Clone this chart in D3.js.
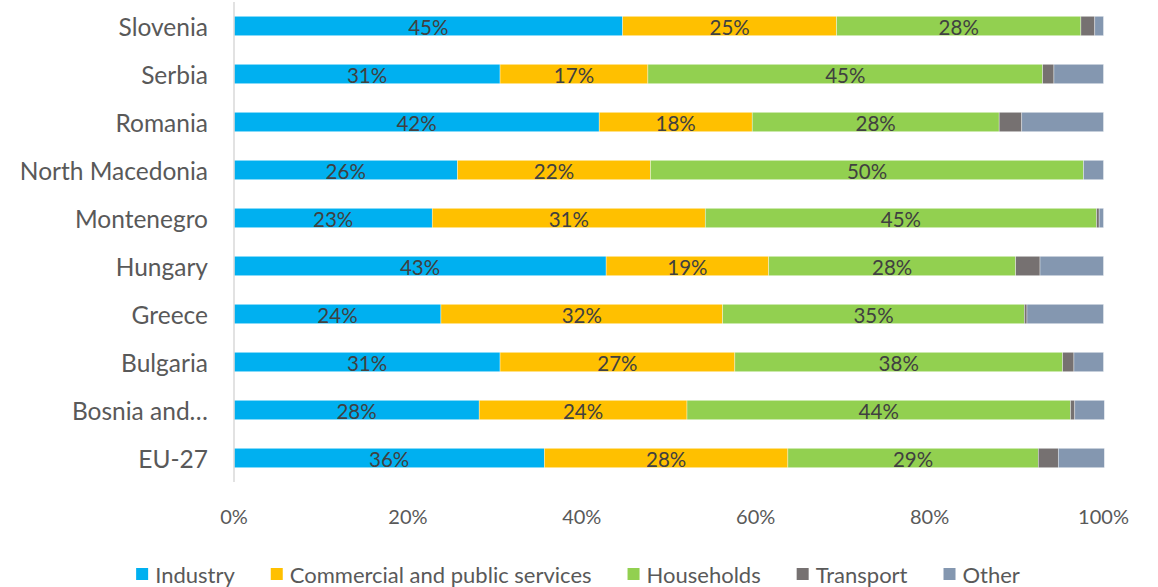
<!DOCTYPE html>
<html>
<head>
<meta charset="utf-8">
<script src="https://cdn.jsdelivr.net/npm/d3@7/dist/d3.min.js"></script>
<style>
  body { margin: 0; background: #fff; }
  text { font-family: Lato, "Open Sans", sans-serif; }
</style>
</head>
<body>
<div id="chart"></div>
<script>
// categories top to bottom
var countries = ["Slovenia", "Serbia", "Romania", "North Macedonia", "Montenegro",
                 "Hungary", "Greece", "Bulgaria", "Bosnia and\u2026", "EU-27"];
var sectors = ["Industry", "Commercial and public services", "Households", "Transport", "Other"];
var colors = ["#00B0F0", "#FFC000", "#92D050", "#767171", "#8497B0"];

// shares in %, one array per sector, same order as countries
var industry   = [44.7, 30.6, 42.0, 25.7, 22.8, 42.8, 23.8, 30.6, 28.2, 35.7];
var commercial = [24.6, 17.0, 17.6, 22.2, 31.4, 18.7, 32.4, 27.0, 23.9, 28.0];
var households = [28.1, 45.4, 28.4, 49.8, 45.0, 28.4, 34.7, 37.7, 44.1, 28.8];
var transport  = [1.6, 1.3, 2.6, 0.0, 0.3, 2.8, 0.3, 1.3, 0.5, 2.3];
var other      = [1.0, 5.7, 9.4, 2.3, 0.5, 7.3, 8.8, 3.4, 3.4, 5.3];
var xTicks = [0, 20, 40, 60, 80, 100];
var labelled = ["Industry", "Commercial and public services", "Households"];

var svgWidth = 1158, svgHeight = 587;
var series = [industry, commercial, households, transport, other];

var table = countries.map(function(c, i) {
    var row = { country: c };
    sectors.forEach(function(s, j) { row[s] = series[j][i]; });
    return row;
});
var stacked = d3.stack().keys(sectors)(table);

var svg = d3.select("#chart").append("svg")
    .attr("width", svgWidth)
    .attr("height", svgHeight);

var x = d3.scaleLinear().domain([0, 100]).range([234, 1103.5]);
var y = d3.scaleBand().domain(countries).range([2, 482]).paddingInner(0.595).paddingOuter(0.2975);

// bars
var layers = svg.selectAll(".layer")
    .data(stacked)
    .enter().append("g")
    .attr("class", "layer")
    .attr("fill", function(d, i) { return colors[i]; });

layers.selectAll("rect")
    .data(function(d) { return d; })
    .enter().append("rect")
    .attr("x", function(d) { return x(d[0]); })
    .attr("y", function(d) { return y(d.data.country); })
    .attr("width", function(d) { return Math.max(0, x(d[1]) - x(d[0])); })
    .attr("height", y.bandwidth())
    .attr("stroke", "#fff")
    .attr("stroke-opacity", 0.6)
    .attr("stroke-width", 0.6);

// data labels for the first three sectors
layers.filter(function(d) { return labelled.indexOf(d.key) >= 0; })
    .selectAll("text")
    .data(function(d) { return d; })
    .enter().append("text")
    .attr("x", function(d) { return (x(d[0]) + x(d[1])) / 2; })
    .attr("y", function(d) { return y(d.data.country) + y.bandwidth() / 2 + 1; })
    .attr("text-anchor", "middle")
    .attr("dominant-baseline", "central")
    .attr("fill", "#404040")
    .style("font-size", "20.5px")
    .text(function(d) { return Math.round(d[1] - d[0]) + "%"; });

// category axis
svg.append("line")
    .attr("x1", 234).attr("x2", 234)
    .attr("y1", 2).attr("y2", 482)
    .attr("stroke", "#D9D9D9")
    .attr("stroke-width", 1.5);

svg.selectAll(".cat")
    .data(countries)
    .enter().append("text")
    .attr("class", "cat")
    .attr("x", 208)
    .attr("y", function(d) { return y(d) + y.bandwidth() / 2; })
    .attr("text-anchor", "end")
    .attr("dominant-baseline", "central")
    .attr("fill", "#595959")
    .style("font-size", "24.5px")
    .text(function(d) { return d; });

// value axis labels
svg.selectAll(".tick-label")
    .data(xTicks)
    .enter().append("text")
    .attr("class", "tick-label")
    .attr("x", function(d) { return x(d); })
    .attr("y", 516)
    .attr("text-anchor", "middle")
    .attr("dominant-baseline", "central")
    .attr("fill", "#595959")
    .style("font-size", "20px")
    .text(function(d) { return d + "%"; });

// legend, centred under the chart
var legend = svg.append("g");
var items = legend.selectAll("g")
    .data(sectors)
    .enter().append("g");
items.append("rect")
    .attr("width", 12).attr("height", 12)
    .attr("y", -6)
    .attr("fill", function(d, i) { return colors[i]; });
items.append("text")
    .attr("x", 19)
    .attr("dominant-baseline", "central")
    .attr("fill", "#595959")
    .style("font-size", "22px")
    .text(function(d) { return d; });

var pos = 0;
items.each(function() {
    var w = 19 + this.querySelector("text").getComputedTextLength();
    d3.select(this).attr("transform", "translate(" + pos + ",0)");
    pos += w + 36;
});
pos -= 36;
legend.attr("transform", "translate(" + (578 - pos / 2) + ",574)");
</script>
</body>
</html>
